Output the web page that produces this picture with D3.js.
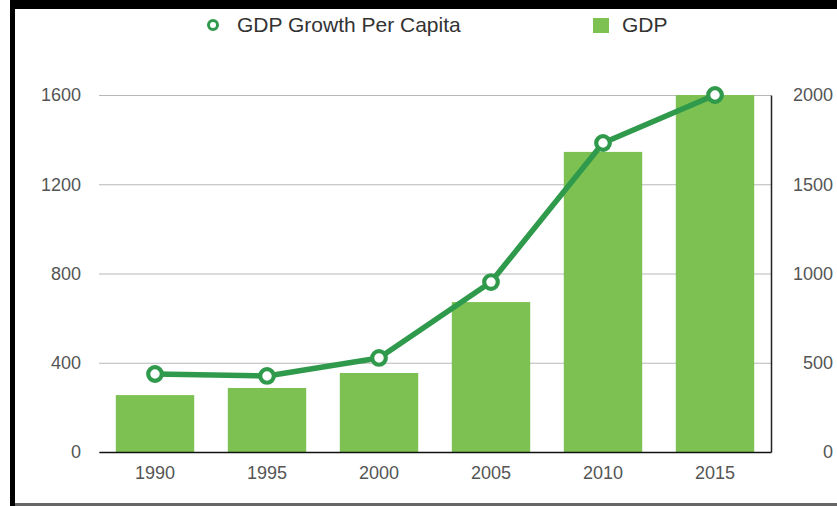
<!DOCTYPE html>
<html>
<head>
<meta charset="utf-8">
<script src="https://cdn.jsdelivr.net/npm/d3@7"></script>
<style>
  html, body { margin: 0; padding: 0; background: #fff; }
  svg { display: block; font-family: "Liberation Sans", Arial, Helvetica, sans-serif; }
</style>
</head>
<body>
<svg id="chart" width="837" height="506"></svg>
<script>
const years = ["1990", "1995", "2000", "2005", "2010", "2015"];
const gdp = [255, 287, 354, 672, 1345, 1600];
const growthPerCapita = [437, 426, 527, 952, 1731, 2000];
const leftTicks = [0, 400, 800, 1200, 1600];
const rightTicks = [0, 500, 1000, 1500, 2000];
const seriesNames = ["GDP Growth Per Capita", "GDP"];

const W = 837, H = 506;
const plot = { left: 99, right: 771, top: 95, bottom: 452 };
const barColor = "#7cc151";
const lineColor = "#2f9a4b";
const labelColor = "#555";
const fmt = d3.format("d");

const svg = d3.select("#chart");

// frame
svg.append("rect").attr("x", 0).attr("y", 0).attr("width", W).attr("height", H).attr("fill", "#fff");
svg.append("rect").attr("x", 10).attr("y", 0).attr("width", W - 10).attr("height", 9).attr("fill", "#000");
svg.append("rect").attr("x", 10).attr("y", 0).attr("width", 5).attr("height", H).attr("fill", "#000");
svg.append("rect").attr("x", 15).attr("y", 503).attr("width", W - 15).attr("height", 3).attr("fill", "#666");

const x = d3.scaleBand().domain(years).range([plot.left, plot.right]).paddingInner(0.3).paddingOuter(0.15);
const yL = d3.scaleLinear().domain([0, 1600]).range([plot.bottom, plot.top]);
const yR = d3.scaleLinear().domain([0, 2000]).range([plot.bottom, plot.top]);

// left axis with gridlines
const gL = svg.append("g").attr("transform", `translate(${plot.left},0)`)
  .call(d3.axisLeft(yL).tickValues(leftTicks).tickFormat(fmt).tickSize(-(plot.right - plot.left)).tickPadding(18));
gL.select(".domain").remove();
gL.selectAll(".tick line").attr("stroke", "#b8b8b8").attr("stroke-width", 1);
gL.selectAll(".tick text").attr("fill", labelColor).attr("font-size", 18).attr("font-family", "Liberation Sans, Arial, sans-serif");

// bars
svg.append("g").selectAll("rect").data(years).join("rect")
  .attr("x", d => x(d))
  .attr("width", x.bandwidth())
  .attr("y", (d, i) => yL(gdp[i]))
  .attr("height", (d, i) => yL(0) - yL(gdp[i]))
  .attr("fill", barColor);

// bottom axis
const gB = svg.append("g").attr("transform", `translate(0,${plot.bottom})`)
  .call(d3.axisBottom(x).tickSize(0).tickPadding(14));
gB.select(".domain").attr("stroke", "#111").attr("stroke-width", 1.5);
gB.selectAll(".tick text").attr("fill", labelColor).attr("font-size", 18).attr("font-family", "Liberation Sans, Arial, sans-serif");

// right axis
const gR = svg.append("g").attr("transform", `translate(${plot.right},0)`)
  .call(d3.axisRight(yR).tickValues(rightTicks).tickFormat(fmt).tickSize(0).tickPadding(62));
gR.select(".domain").attr("stroke", "#222").attr("stroke-width", 1.5);
gR.selectAll(".tick text").attr("fill", labelColor).attr("font-size", 18).attr("text-anchor", "end")
  .attr("font-family", "Liberation Sans, Arial, sans-serif");

// line
const cx = d => x(d) + x.bandwidth() / 2;
const line = d3.line().x((d, i) => cx(years[i])).y(d => yR(d));
svg.append("path").datum(growthPerCapita)
  .attr("d", line).attr("fill", "none").attr("stroke", lineColor)
  .attr("stroke-width", 5.5).attr("stroke-linejoin", "round");
svg.append("g").selectAll("circle").data(growthPerCapita).join("circle")
  .attr("cx", (d, i) => cx(years[i])).attr("cy", d => yR(d)).attr("r", 6.8)
  .attr("fill", "#fff").attr("stroke", lineColor).attr("stroke-width", 4.2);

// legend
const lg = svg.append("g");
lg.append("circle").attr("cx", 213).attr("cy", 25).attr("r", 4.5)
  .attr("fill", "#fff").attr("stroke", lineColor).attr("stroke-width", 3);
lg.append("text").attr("x", 237).attr("y", 32).attr("font-size", 21).attr("fill", "#333").text(seriesNames[0]);
lg.append("rect").attr("x", 593).attr("y", 18).attr("width", 16).attr("height", 15).attr("fill", barColor);
lg.append("text").attr("x", 622).attr("y", 32).attr("font-size", 21).attr("fill", "#333").text(seriesNames[1]);
</script>
</body>
</html>
